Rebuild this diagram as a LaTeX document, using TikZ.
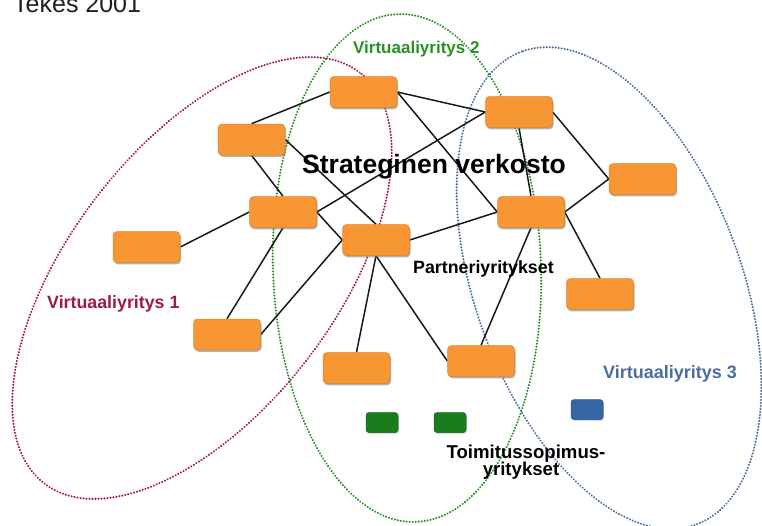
\documentclass[tikz,border=0pt]{standalone}
\usepackage{fontspec}
\setmainfont{Liberation Sans}
\usetikzlibrary{shadows,backgrounds}
\definecolor{boxor}{RGB}{248,150,52}
\definecolor{boxgr}{RGB}{25,125,30}
\definecolor{boxbl}{RGB}{55,100,165}
\definecolor{vred}{RGB}{160,25,75}
\definecolor{vgreen}{RGB}{40,145,40}
\definecolor{vblue}{RGB}{75,110,160}
\definecolor{edgec}{RGB}{25,25,25}
\tikzset{
  obox/.style={rectangle, rounded corners=4pt, fill=boxor, draw=boxor!88!black, line width=0.5pt,
    minimum width=67pt, minimum height=31pt, inner sep=0pt,
    drop shadow={shadow xshift=1pt, shadow yshift=-1.8pt, fill=black!55, opacity=0.55}},
  sbox/.style={rectangle, rounded corners=3pt, draw=#1!85!black, line width=0.5pt, fill=#1,
    minimum width=32pt, minimum height=20pt, inner sep=0pt,
    drop shadow={shadow xshift=0.8pt, shadow yshift=-1.2pt, fill=black!50, opacity=0.45}},
  link/.style={draw=edgec, line width=1.5pt},
  dotring/.style={draw=#1, line width=2.3pt, line cap=round, dash pattern=on 0.01pt off 3pt},
  lbl/.style={inner sep=0pt, anchor=base west, font=\bfseries\fontsize{#1}{#1}\selectfont}
}
\begin{document}
\begin{tikzpicture}[x=1pt,y=-1pt]
\useasboundingbox (0,0) rectangle (762,525);
\clip (0,0) rectangle (762,525);
% partner companies
\node[obox] (A) at (363.5,92) {};
\node[obox] (B) at (251.5,139.5) {};
\node[obox] (C) at (519,112) {};
\node[obox] (D) at (283,212) {};
\node[obox] (E) at (376,240) {};
\node[obox] (F) at (531,212) {};
\node[obox] (G) at (642.5,179) {};
\node[obox] (H) at (146.5,247) {};
\node[obox] (I) at (227,334.5) {};
\node[obox] (J) at (356.5,368) {};
\node[obox] (K) at (481,361) {};
\node[obox] (L) at (600,294) {};
% supply contract companies
\node[sbox=boxgr] (S1) at (382,422.5) {};
\node[sbox=boxgr] (S2) at (450,422.5) {};
\node[sbox=boxbl] (S3) at (587,409.5) {};
\begin{scope}[on background layer]
\fill[white] (0,0) rectangle (762,525);
% virtual enterprise rings
\draw[dotring=vred, rotate around={52.5:(202,278)}] (202,278) ellipse [x radius=259pt, y radius=133pt];
\draw[dotring=vgreen, rotate around={2:(407,268)}] (407,268) ellipse [x radius=134pt, y radius=254pt];
\draw[dotring=vblue, rotate around={110.3:(609,288)}] (609,288) ellipse [x radius=252pt, y radius=133pt];
% links
\path[link] (A.west) -- (B.north);
\path[link] (A.east) -- (C.west);
\path[link] (A.east) -- (F.west);
\path[link] (C.west) -- (D.east);
\path[link] (C.south) -- (F.north);
\path[link] (C.east) -- (G.west);
\path[link] (F.east) -- (G.west);
\path[link] (B.south) -- (D.north);
\path[link] (B.east) -- (E.north);
\path[link] (D.east) -- (E.west);
\path[link] (D.west) -- (H.east);
\path[link] (D.south) -- (I.north);
\path[link] (E.west) -- (I.east);
\path[link] (E.east) -- (F.west);
\path[link] (E.south) -- (J.north);
\path[link] (E.south) -- (K.west);
\path[link] (F.south) -- (K.north);
\path[link] (F.east) -- (L.north);
\end{scope}
% texts
\node[inner sep=0pt, anchor=base west, text=black!88, font=\fontsize{25}{25}\selectfont] (tekes) at (13,12) {Tekes 2001};
\node[lbl=26.5] (sv) at (302,173) {Strateginen verkosto};
\node[lbl=17, text=vgreen] (v2) at (353,53) {Virtuaaliyritys 2};
\node[lbl=17.8] (pa) at (413,273) {Partneriyritykset};
\node[lbl=17.8, text=vred] (v1) at (47,308) {Virtuaaliyritys 1};
\node[lbl=18, text=vblue] (v3) at (603,378) {Virtuaaliyritys 3};
\node[lbl=18.6, anchor=base] (t1) at (526,458) {Toimitussopimus-};
\node[lbl=18.6, anchor=base] (t2) at (521,475) {yritykset};
\end{tikzpicture}
\end{document}
